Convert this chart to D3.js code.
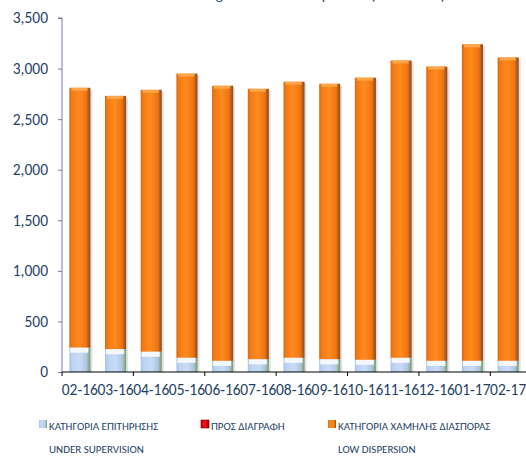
<!DOCTYPE html>
<html>
<head>
<meta charset="utf-8">
<script src="https://cdn.jsdelivr.net/npm/d3@7"></script>
<style>
  body { margin: 0; background: #fff; }
  text { font-family: Carlito, "Liberation Sans", Arial, sans-serif; }
</style>
</head>
<body>
<svg></svg>
<script>
// data
var months = ["02-16","03-16","04-16","05-16","06-16","07-16","08-16","09-16","10-16","11-16","12-16","01-17","02-17"];
var supervision = [240, 225, 200, 140, 110, 125, 140, 125, 120, 140, 110, 110, 110];
var toDelete =    [0, 0, 0, 0, 0, 0, 0, 0, 0, 0, 0, 0, 0];
var totals =      [2810, 2730, 2790, 2950, 2830, 2800, 2870, 2850, 2910, 3080, 3020, 3240, 3110];
var lowDispersion = totals.map((t, i) => t - supervision[i] - toDelete[i]);
var yTicks = [0, 500, 1000, 1500, 2000, 2500, 3000, 3500];
var seriesNames = [
  ["ΚΑΤΗΓΟΡΙΑ ΕΠΙΤΗΡΗΣΗΣ", "UNDER SUPERVISION"],
  ["ΠΡΟΣ ΔΙΑΓΡΑΦΗ", ""],
  ["ΚΑΤΗΓΟΡΙΑ ΧΑΜΗΛΗΣ ΔΙΑΣΠΟΡΑΣ", "LOW DISPERSION"]
];

var width = 526, height = 457;
var plotLeft = 62, plotRight = 526, plotTop = 18, plotBottom = 372;
var labelColor = "#1f3f66";

var svg = d3.select("svg")
    .attr("width", width)
    .attr("height", height);

// gradients for the cylinder look
var defs = svg.append("defs");
function grad(id, stops){
  var g = defs.append("linearGradient").attr("id", id)
      .attr("x1", "0%").attr("x2", "100%").attr("y1", "0%").attr("y2", "0%");
  stops.forEach(s => g.append("stop").attr("offset", s[0]).attr("stop-color", s[1]));
}
grad("gOrange", [["0%","#d9690f"],["12%","#f27a14"],["45%","#ff8a1f"],["80%","#ee7612"],["92%","#b55a16"],["100%","#7a4a2a"]]);
grad("gBlue", [["0%","#a9c3e6"],["15%","#bcd3f2"],["50%","#c8dcf6"],["82%","#aec5e4"],["92%","#8fb08e"],["100%","#6f9a70"]]);
grad("gRed", [["0%","#d00000"],["50%","#ff1010"],["100%","#a00000"]]);

// title, mostly cut off at the top edge
svg.append("text")
    .attr("x", 184)
    .attr("y", 0)
    .attr("fill", labelColor)
    .style("font-size", "15px")
    .text("Listing Status - Low Dispersion (2016-2017)");

var x = d3.scaleBand()
    .domain(months)
    .range([plotLeft, plotRight])
    .paddingInner(0.41)
    .paddingOuter(0.205);

var y = d3.scaleLinear()
    .domain([0, 3500])
    .range([plotBottom, plotTop]);

// y axis
var yAxis = svg.append("g")
    .attr("transform", `translate(${plotLeft},0)`)
    .call(d3.axisLeft(y).tickValues(yTicks).tickFormat(d3.format(",")).tickSize(4).tickPadding(10));
yAxis.select(".domain").attr("stroke", "#7b7ba6").attr("d", `M-4,${plotTop}H0V${plotBottom}`);
yAxis.selectAll(".tick line").attr("stroke", "#7b7ba6");
yAxis.selectAll(".tick text").attr("fill", labelColor).style("font-size", "15.5px");

// bars
var stack = d3.stack().keys(["sup", "del", "low"]);
var rows = months.map((m, i) => ({month: m, sup: supervision[i], del: toDelete[i], low: lowDispersion[i]}));
var layers = stack(rows);
var fills = ["url(#gBlue)", "url(#gRed)", "url(#gOrange)"];

// soft shadow behind each column
svg.append("g").selectAll("rect")
  .data(rows)
  .join("rect")
    .attr("x", d => x(d.month) + 2)
    .attr("y", d => y(d.sup + d.del + d.low) + 2)
    .attr("width", x.bandwidth())
    .attr("height", d => plotBottom - y(d.sup + d.del + d.low) - 2)
    .attr("fill", "#bdbdbd")
    .attr("opacity", 0.45);

layers.forEach((layer, k) => {
  svg.append("g").selectAll("rect")
    .data(layer)
    .join("rect")
      .attr("x", d => x(d.data.month))
      .attr("y", d => y(d[1]))
      .attr("width", x.bandwidth())
      .attr("height", d => y(d[0]) - y(d[1]))
      .attr("fill", fills[k]);
});

// light cap on top of the blue and orange segments
svg.append("g").selectAll("rect")
  .data(layers[0])
  .join("rect")
    .attr("x", d => x(d.data.month) + 1)
    .attr("y", d => y(d[1]))
    .attr("width", x.bandwidth() - 3)
    .attr("height", 5)
    .attr("fill", "#f4f7fc");
svg.append("g").selectAll("rect")
  .data(layers[2])
  .join("rect")
    .attr("x", d => x(d.data.month) + 2)
    .attr("y", d => y(d[1]))
    .attr("width", x.bandwidth() - 5)
    .attr("height", 3)
    .attr("fill", "#ffa54a");

// x axis
var xAxis = svg.append("g")
    .attr("transform", `translate(0,${plotBottom})`)
    .call(d3.axisBottom(x).tickSize(0).tickPadding(12));
xAxis.select(".domain").attr("stroke", "#000").attr("d", `M${plotLeft},0H${plotRight}`);
xAxis.selectAll(".tick text").attr("fill", labelColor).style("font-size", "15.5px");
// ticks every second category boundary
var bounds = d3.range(0, months.length + 1, 2).map(i => plotLeft + i * x.step());
xAxis.selectAll(".bound")
  .data(bounds)
  .join("line")
    .attr("x1", d => d).attr("x2", d => d)
    .attr("y1", 0).attr("y2", 4)
    .attr("stroke", "#000");

// legend
var legendX = [39, 201, 328];
var legend = svg.append("g").selectAll("g")
  .data(seriesNames)
  .join("g")
    .attr("transform", (d, i) => `translate(${legendX[i]},0)`);
legend.append("rect")
    .attr("x", 0).attr("y", 420)
    .attr("width", 8).attr("height", 8)
    .attr("fill", (d, i) => fills[i])
    .attr("stroke", (d, i) => i == 1 ? "#600" : "none")
    .attr("stroke-width", 0.6);
legend.append("text")
    .attr("x", 10).attr("y", 430)
    .attr("fill", labelColor)
    .style("font-size", "11px")
    .text(d => d[0]);
legend.append("text")
    .attr("x", 10).attr("y", 453)
    .attr("fill", labelColor)
    .style("font-size", "11px")
    .text(d => d[1]);
</script>
</body>
</html>
